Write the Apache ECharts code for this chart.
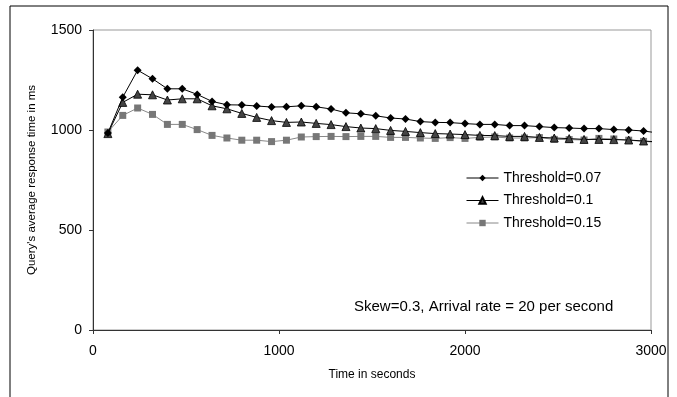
<!DOCTYPE html>
<html>
<head>
<meta charset="utf-8">
<script src="https://cdn.jsdelivr.net/npm/echarts@6/dist/echarts.min.js"></script>
<style>
  html, body { margin: 0; padding: 0; background: #fff; }
  #chart { width: 677px; height: 397px; }
</style>
</head>
<body>
<div id="chart"></div>
<script>
// time points (seconds)
const times = [80, 160, 240, 320, 400, 480, 560, 640, 720, 800, 880, 960, 1040, 1120, 1200, 1280, 1360, 1440, 1520,
  1600, 1680, 1760, 1840, 1920, 2000, 2080, 2160, 2240, 2320, 2400, 2480, 2560, 2640, 2720, 2800, 2880, 2960, 3040]

// average response time (ms)
const thr007 = [985, 1164, 1299, 1256, 1206, 1206, 1178, 1143, 1126, 1125, 1120, 1115, 1116, 1121, 1116, 1105, 1086, 1081, 1071,
  1060, 1055, 1042, 1038, 1037, 1032, 1028, 1028, 1022, 1022, 1017, 1012, 1010, 1007, 1007, 1002, 1000, 995, 985]
const thr01 = [982, 1138, 1179, 1176, 1150, 1156, 1156, 1121, 1106, 1083, 1063, 1047, 1038, 1040, 1033, 1027, 1017, 1010, 1007,
  998, 993, 987, 982, 980, 977, 973, 972, 968, 968, 963, 960, 957, 953, 953, 952, 950, 945, 940]
const thr015 = [990, 1073, 1110, 1078, 1028, 1028, 1002, 973, 960, 949, 949, 942, 949, 965, 967, 968, 967, 968, 968,
  963, 963, 960, 958, 962, 958, 963, 965, 960, 960, 962, 953, 952, 950, 958, 955, 949, 943, 938]

const seriesNames = ['Threshold=0.07', 'Threshold=0.1', 'Threshold=0.15']
const yTicks = [0, 500, 1000, 1500]

const font = 'Liberation Sans, Arial, sans-serif'

function pairs (vals) {
  return times.map((t, i) => [t, vals[i]])
}

const chart = echarts.init(document.getElementById('chart'))
chart.setOption({
  animation: false,
  backgroundColor: '#fff',
  textStyle: { fontFamily: font },
  // outer frame of the figure
  graphic: [
    {
      type: 'rect',
      shape: { x: 10, y: 6, width: 658, height: 400 },
      style: { fill: 'none', stroke: '#000', lineWidth: 1 },
      silent: true
    },
    {
      type: 'text',
      left: 354,
      top: 299,
      style: { text: 'Skew=0.3, Arrival rate = 20 per second', font: '15px ' + font, fill: '#000' }
    }
  ],
  grid: {
    left: 93,
    right: 26,
    top: 30,
    bottom: 67,
    show: true,
    borderColor: '#999',
    borderWidth: 1
  },
  legend: {
    orient: 'vertical',
    left: 466,
    top: 171,
    padding: 0,
    itemWidth: 32,
    itemHeight: 8,
    itemGap: 8.5,
    data: seriesNames,
    lineStyle: { width: 1 },
    textStyle: { fontFamily: font, fontSize: 14, color: '#000' }
  },
  xAxis: {
    type: 'value',
    min: 0,
    max: 3000,
    interval: 1000,
    name: 'Time in seconds',
    nameLocation: 'middle',
    nameGap: 39,
    nameTextStyle: { fontFamily: font, fontSize: 12, color: '#000' },
    axisLine: { lineStyle: { color: '#333', width: 1 } },
    axisTick: { inside: false, length: 4, lineStyle: { color: '#333' } },
    axisLabel: { fontFamily: font, fontSize: 14, color: '#000', margin: 14, formatter: v => String(v) },
    splitLine: { show: false }
  },
  yAxis: {
    type: 'value',
    min: yTicks[0],
    max: yTicks[yTicks.length - 1],
    interval: 500,
    name: "Query's average response time in ms",
    nameLocation: 'middle',
    nameGap: 55,
    nameTextStyle: { fontFamily: font, fontSize: 11.5, color: '#000' },
    axisLine: { show: true, lineStyle: { color: '#333', width: 1 } },
    axisTick: { show: true, inside: false, length: 4, lineStyle: { color: '#333' } },
    axisLabel: { fontFamily: font, fontSize: 14, color: '#000', margin: 11, formatter: v => String(v) },
    splitLine: { show: false }
  },
  series: [
    {
      name: seriesNames[0],
      type: 'line',
      data: pairs(thr007),
      clip: true,
      symbol: 'diamond',
      symbolSize: 8,
      lineStyle: { color: '#000', width: 1 },
      itemStyle: { color: '#000' },
      z: 4
    },
    {
      name: seriesNames[1],
      type: 'line',
      data: pairs(thr01),
      clip: true,
      symbol: 'triangle',
      symbolSize: 8,
      lineStyle: { color: '#000', width: 1 },
      itemStyle: { color: '#444', borderColor: '#000', borderWidth: 0.8 },
      z: 3
    },
    {
      name: seriesNames[2],
      type: 'line',
      data: pairs(thr015),
      clip: true,
      symbol: 'rect',
      symbolSize: 7,
      lineStyle: { color: '#888', width: 1 },
      itemStyle: { color: '#777' },
      z: 2
    }
  ]
})
</script>
</body>
</html>
